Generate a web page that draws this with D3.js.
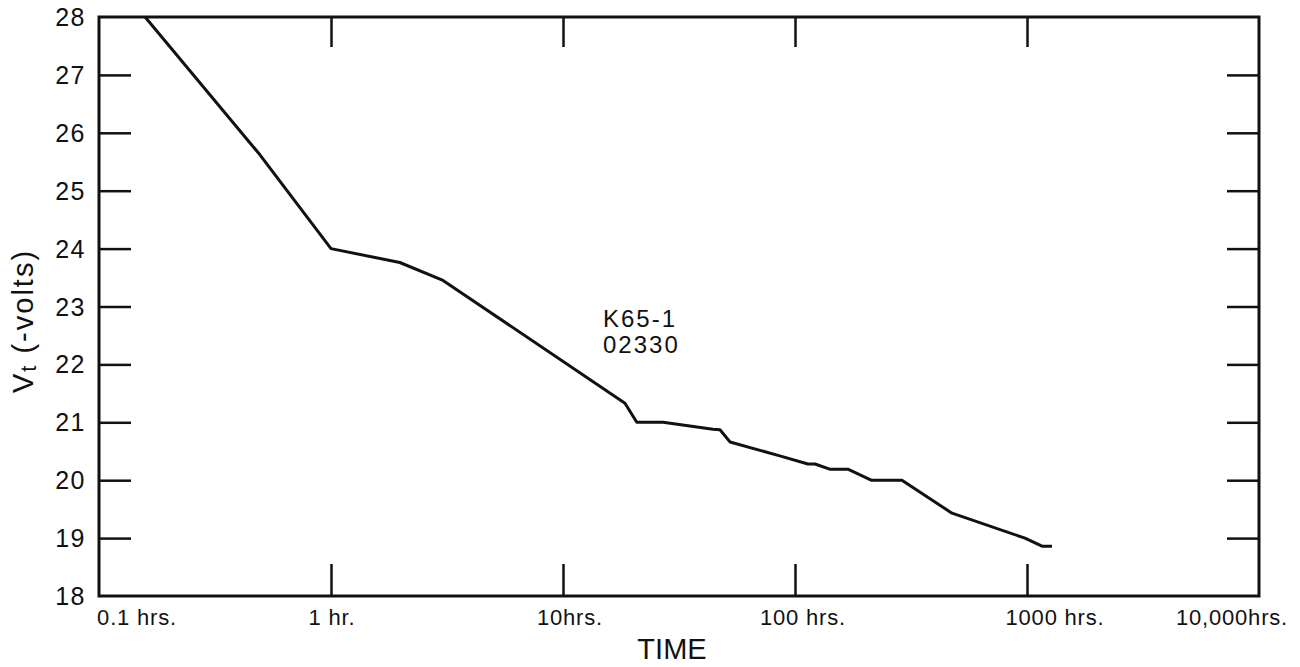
<!DOCTYPE html>
<html>
<head>
<meta charset="utf-8">
<script src="https://cdn.jsdelivr.net/npm/d3@7"></script>
<style>
  body { margin: 0; background: #fff; }
  text { font-family: "Liberation Sans", Arial, sans-serif; fill: #111; }
</style>
</head>
<body>
<script>
// values
const hours = [0.158, 0.494, 1.0, 1.98, 3.04, 18.5, 20.8, 27, 44.3, 47.5, 52.5, 86, 113.7, 122, 141, 169, 213, 289, 475, 980, 1161, 1282];
const volts = [28.0, 25.62, 24.0, 23.76, 23.45, 21.33, 21.0, 21.0, 20.88, 20.87, 20.66, 20.42, 20.28, 20.28, 20.19, 20.19, 20.0, 20.0, 19.43, 19.0, 18.86, 18.86];
const xTicks = [0.1, 1, 10, 100, 1000, 10000];
const xTickLabels = ["0.1 hrs.", "1 hr.", "10hrs.", "100 hrs.", "1000 hrs.", "10,000hrs."];
const yTicks = [18, 19, 20, 21, 22, 23, 24, 25, 26, 27, 28];
const tubeLabel = ["K65-1", "02330"];

window.onload = function () {
    const w = 1300, h = 667;
    const left = 99, right = 1259, top = 17, bottom = 596;

    const x = d3.scaleLog().domain([0.1, 10000]).range([left, right]);
    const y = d3.scaleLinear().domain([18, 28]).range([bottom, top]);

    const svg = d3.select("body").append("svg")
        .attr("width", w)
        .attr("height", h);

    // inner ticks on all four sides
    const inner = xTicks.slice(1, -1);
    const innerY = yTicks.slice(1, -1);

    svg.append("g")
        .attr("transform", `translate(0,${bottom})`)
        .call(d3.axisBottom(x).tickValues(inner).tickSize(-32).tickFormat(""));
    svg.append("g")
        .attr("transform", `translate(0,${top})`)
        .call(d3.axisTop(x).tickValues(inner).tickSize(-30).tickFormat(""));
    svg.append("g")
        .attr("transform", `translate(${left},0)`)
        .call(d3.axisLeft(y).tickValues(innerY).tickSize(-32).tickFormat(""));
    svg.append("g")
        .attr("transform", `translate(${right},0)`)
        .call(d3.axisRight(y).tickValues(innerY).tickSize(-32).tickFormat(""));

    svg.selectAll(".domain").remove();
    svg.selectAll(".tick line").attr("stroke", "#111").attr("stroke-width", 2.5);

    // frame
    svg.append("rect")
        .attr("x", left).attr("y", top)
        .attr("width", right - left).attr("height", bottom - top)
        .attr("fill", "none")
        .attr("stroke", "#111")
        .attr("stroke-width", 3);

    // y tick labels
    svg.selectAll(".ylab")
        .data(yTicks)
        .enter().append("text")
        .attr("x", 86)
        .attr("y", d => y(d))
        .attr("dy", "0.36em")
        .attr("text-anchor", "end")
        .attr("font-size", 25)
        .attr("letter-spacing", 1.5)
        .text(d => d);

    // x tick labels (hand lettered, so each sits a little differently)
    const labDx = [38, 1, 7, 8, 28, -27];
    svg.selectAll(".xlab")
        .data(xTicks)
        .enter().append("text")
        .attr("x", (d, i) => x(d) + labDx[i])
        .attr("y", 625)
        .attr("text-anchor", "middle")
        .attr("font-size", 22)
        .attr("letter-spacing", 0.8)
        .text((d, i) => xTickLabels[i]);

    svg.append("text")
        .attr("x", 672)
        .attr("y", 659)
        .attr("text-anchor", "middle")
        .attr("font-size", 29)
        .text("TIME");

    const yt = svg.append("text")
        .attr("transform", "rotate(-90)")
        .attr("x", -321)
        .attr("y", 33)
        .attr("text-anchor", "middle")
        .attr("font-size", 29)
        .attr("letter-spacing", 2);
    yt.append("tspan").text("V");
    yt.append("tspan").attr("font-size", 22).attr("dy", 3).text("t");
    yt.append("tspan").attr("dy", -3).text(" (-volts)");

    // curve
    const line = d3.line()
        .x(d => x(d[0]))
        .y(d => y(d[1]));

    svg.append("path")
        .datum(hours.map((t, i) => [t, volts[i]]))
        .attr("fill", "none")
        .attr("stroke", "#111")
        .attr("stroke-width", 3)
        .attr("stroke-linejoin", "round")
        .attr("d", line);

    svg.selectAll(".tube")
        .data(tubeLabel)
        .enter().append("text")
        .attr("x", 603)
        .attr("y", (d, i) => 327 + i * 26)
        .attr("font-size", 24)
        .attr("letter-spacing", 2)
        .text(d => d);
}
</script>
</body>
</html>
